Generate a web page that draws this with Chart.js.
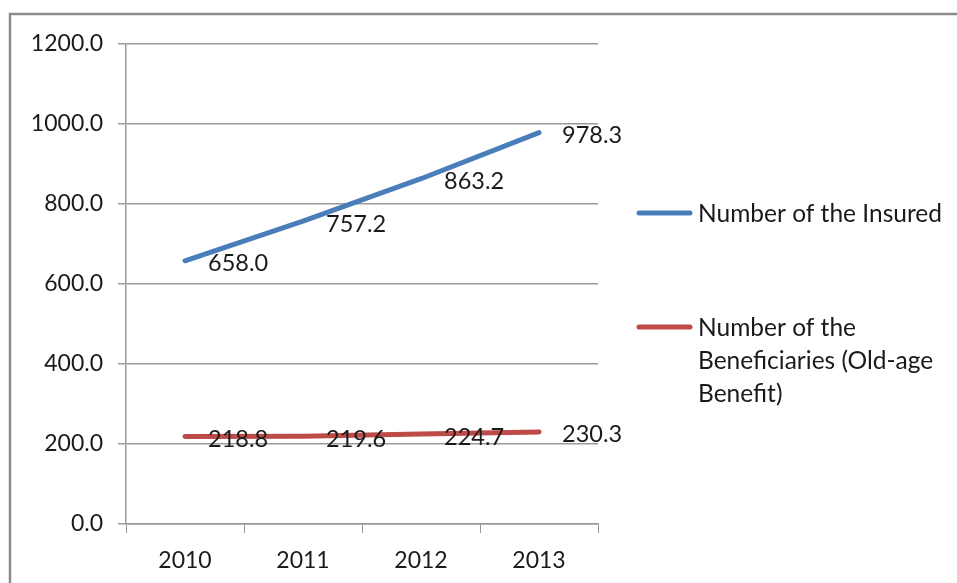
<!DOCTYPE html>
<html>
<head>
<meta charset="utf-8">
<title>Insured and Beneficiaries</title>
<script src="https://cdn.jsdelivr.net/npm/chart.js@4"></script>
<style>
  html, body { margin: 0; padding: 0; background: #fff; }
  #wrap { width: 957px; height: 583px; position: relative; }
</style>
</head>
<body>
<div id="wrap"><canvas id="myChart" width="957" height="583"></canvas></div>
<script>
const years = ['2010', '2011', '2012', '2013'];
const insured = [658.0, 757.2, 863.2, 978.3];
const beneficiaries = [218.8, 219.6, 224.7, 230.3];
const insuredLabel = 'Number of the Insured';
const beneficiariesLabel = ['Number of the', 'Beneficiaries (Old-age', 'Benefit)'];
const yTicks = [0, 200, 400, 600, 800, 1000, 1200];

const FONT = 'Lato, "Open Sans", sans-serif';
const TEXT = '#1a1a1a';
const GRID = '#9a9a9a';

// outer frame, only top and left sides are visible
const framePlugin = {
    id: 'frame',
    beforeDraw(chart) {
        const ctx = chart.ctx;
        ctx.save();
        ctx.strokeStyle = '#8a8a8a';
        ctx.lineWidth = 2.5;
        ctx.beginPath();
        ctx.moveTo(10, 600);
        ctx.lineTo(10, 14);
        ctx.lineTo(960, 14);
        ctx.stroke();
        ctx.restore();
    }
};

// value labels to the right of each point
const valueLabels = {
    id: 'valueLabels',
    afterDatasetsDraw(chart) {
        const ctx = chart.ctx;
        ctx.save();
        ctx.font = '23.5px ' + FONT;
        ctx.fillStyle = TEXT;
        ctx.textAlign = 'left';
        ctx.textBaseline = 'middle';
        chart.data.datasets.forEach((ds, i) => {
            chart.getDatasetMeta(i).data.forEach((pt, j) => {
                ctx.fillText(ds.data[j].toFixed(1), pt.x + 23, pt.y + 3);
            });
        });
        ctx.restore();
    }
};

// legend on the right side with wrapped text
const sideLegend = {
    id: 'sideLegend',
    afterDraw(chart) {
        const ctx = chart.ctx;
        const items = [
            { color: chart.data.datasets[0].borderColor, lines: [insuredLabel], y: 213 },
            { color: chart.data.datasets[1].borderColor, lines: beneficiariesLabel, y: 327 }
        ];
        ctx.save();
        ctx.font = '24.5px ' + FONT;
        ctx.fillStyle = TEXT;
        ctx.textBaseline = 'middle';
        items.forEach(it => {
            ctx.strokeStyle = it.color;
            ctx.lineWidth = 5;
            ctx.lineCap = 'round';
            ctx.beginPath();
            ctx.moveTo(639, it.y);
            ctx.lineTo(690, it.y);
            ctx.stroke();
            it.lines.forEach((t, k) => ctx.fillText(t, 698, it.y + 1 + k * 33));
        });
        ctx.restore();
    }
};

const ctx = document.getElementById('myChart').getContext('2d');
new Chart(ctx, {
    type: 'line',
    data: {
        labels: years,
        datasets: [
            {
                label: insuredLabel,
                data: insured,
                borderColor: '#4a7ebb',
                borderWidth: 5,
                borderCapStyle: 'round',
                pointRadius: 0,
                tension: 0
            },
            {
                label: beneficiariesLabel.join(' '),
                data: beneficiaries,
                borderColor: '#be4b48',
                borderWidth: 5,
                borderCapStyle: 'round',
                pointRadius: 0,
                tension: 0
            }
        ]
    },
    options: {
        responsive: false,
        animation: false,
        events: [],
        layout: { padding: { top: 44, right: 359, left: 0, bottom: 0 } },
        plugins: {
            legend: { display: false },
            tooltip: { enabled: false }
        },
        scales: {
            x: {
                offset: true,
                grid: {
                    offset: true,
                    drawOnChartArea: false,
                    drawTicks: true,
                    tickLength: 9,
                    color: GRID
                },
                border: { color: GRID, width: 1.5 },
                ticks: {
                    color: TEXT,
                    padding: 14,
                    font: { family: FONT, size: 23 }
                },
                afterFit(s) { s.height = 59; }
            },
            y: {
                min: 0,
                max: 1200,
                afterBuildTicks(s) { s.ticks = yTicks.map(v => ({ value: v })); },
                grid: {
                    color: GRID,
                    lineWidth: 1.5,
                    tickLength: 8
                },
                border: { color: GRID, width: 1.5 },
                ticks: {
                    color: TEXT,
                    padding: 15,
                    font: { family: FONT, size: 23 },
                    callback: v => v.toFixed(1)
                },
                afterFit(s) { s.width = 126; }
            }
        }
    },
    plugins: [framePlugin, valueLabels, sideLegend]
});
</script>
</body>
</html>
